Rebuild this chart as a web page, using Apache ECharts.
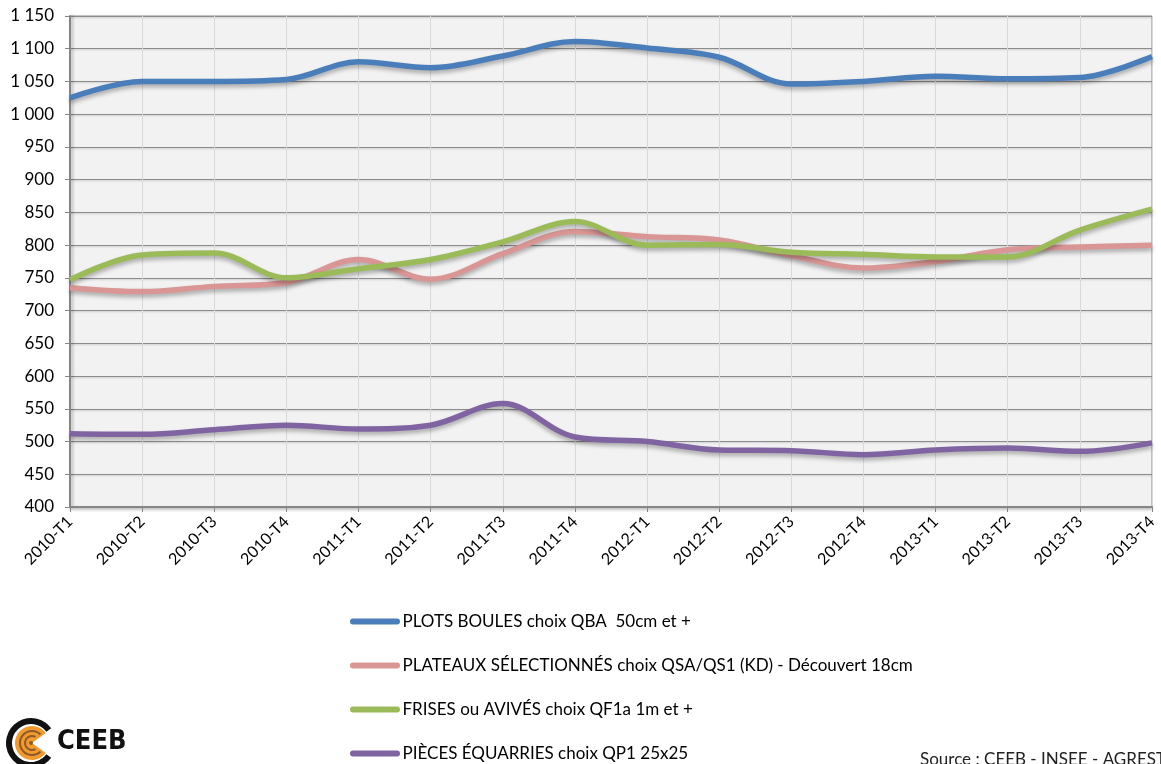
<!DOCTYPE html>
<html>
<head>
<meta charset="utf-8">
<script src="https://cdn.jsdelivr.net/npm/echarts@6/dist/echarts.min.js"></script>
<style>
  html, body { margin: 0; padding: 0; background: #fff; }
  #chart { width: 1161px; height: 764px; }
</style>
</head>
<body>
<div id="chart"></div>
<script>
const quarters = [
  '2010-T1', '2010-T2', '2010-T3', '2010-T4',
  '2011-T1', '2011-T2', '2011-T3', '2011-T4',
  '2012-T1', '2012-T2', '2012-T3', '2012-T4',
  '2013-T1', '2013-T2', '2013-T3', '2013-T4'
]

const seriesNames = [
  'PLOTS BOULES choix QBA  50cm et +',
  'PLATEAUX SÉLECTIONNÉS choix QSA/QS1 (KD) - Découvert 18cm',
  'FRISES ou AVIVÉS choix QF1a 1m et +',
  'PIÈCES ÉQUARRIES choix QP1 25x25'
]

const plotsBoules = [1025, 1050, 1050, 1053, 1080, 1071, 1089, 1111, 1101, 1087, 1046, 1050, 1058, 1054, 1056, 1088]
const plateaux = [735, 729, 737, 743, 778, 748, 787, 821, 813, 808, 784, 765, 775, 793, 797, 800]
const frises = [747, 785, 788, 750, 764, 778, 805, 836, 800, 801, 789, 786, 782, 782, 823, 855]
const pieces = [512, 511, 518, 525, 519, 525, 558, 507, 500, 487, 486, 480, 487, 490, 485, 498]

const palette = ['#4a7ebb', '#d99694', '#9bbb59', '#8064a2']
const font = 'Lato, "Open Sans", sans-serif'

const chart = echarts.init(document.getElementById('chart'))

function lineSeries(name, data, color) {
  return {
    name,
    type: 'line',
    data,
    smooth: 0.35,
    symbol: 'none',
    lineStyle: {
      color,
      width: 5.5,
      shadowColor: 'rgba(0, 0, 0, 0.3)',
      shadowBlur: 4,
      shadowOffsetY: 3,
    },
    itemStyle: { color },
  }
}

const capsule = 'path://M3,0 H47 A3,3 0 0 1 47,6 H3 A3,3 0 0 1 3,0 Z'

chart.setOption({
  animation: false,
  textStyle: { fontFamily: font },
  grid: {
    left: 70, right: 9, top: 16, bottom: 257,
    show: true,
    backgroundColor: '#f2f2f2',
    borderColor: '#8c8c8c',
    borderWidth: 1,
  },
  xAxis: {
    type: 'category',
    data: quarters,
    boundaryGap: false,
    axisLine: {
      lineStyle: { color: '#868686', width: 2, shadowColor: 'rgba(0,0,0,0.25)', shadowBlur: 3, shadowOffsetY: 2 },
    },
    axisTick: { show: true, length: 5, lineStyle: { color: '#868686', width: 1 } },
    axisLabel: { rotate: 45, fontSize: 16, color: '#000', margin: 12, fontFamily: font },
    splitLine: { show: true, lineStyle: { color: '#d9d9d9', width: 1 } },
  },
  yAxis: {
    type: 'value',
    min: 400,
    max: 1150,
    interval: 50,
    axisLine: {
      show: true,
      lineStyle: { color: '#868686', width: 2, shadowColor: 'rgba(0,0,0,0.25)', shadowBlur: 3, shadowOffsetX: 2 },
    },
    axisTick: { show: true, length: 5, lineStyle: { color: '#868686' } },
    axisLabel: {
      fontSize: 17,
      color: '#000',
      margin: 16,
      fontFamily: font,
      formatter: (v) => String(v).replace(/\B(?=(\d{3})+(?!\d))/g, ' '),
    },
    splitLine: {
      lineStyle: { color: '#8c8c8c', width: 1.2, shadowColor: 'rgba(0,0,0,0.2)', shadowBlur: 2, shadowOffsetY: 1 },
    },
  },
  legend: {
    orient: 'vertical',
    left: 345,
    top: 608,
    height: 220,
    width: 700,
    icon: capsule,
    itemWidth: 51,
    itemHeight: 6,
    itemGap: 27,
    textStyle: { fontSize: 17, color: '#000', fontFamily: font, padding: [0, 0, 0, -3] },
    data: seriesNames,
  },
  graphic: [
    {
      type: 'text',
      left: 920,
      top: 751,
      style: { text: 'Source : CEEB - INSEE - AGRESTE', fontSize: 17, fill: '#222', fontFamily: font },
    },
    // CEEB logo
    {
      type: 'group',
      left: 6,
      top: 718,
      children: [
        {
          type: 'sector',
          shape: { cx: 25, cy: 25, r: 25, r0: 19, startAngle: Math.PI / 5, endAngle: 2 * Math.PI - Math.PI / 5 },
          style: { fill: '#111' },
        },
        {
          type: 'sector',
          shape: { cx: 26, cy: 25, r: 17, r0: 0, startAngle: Math.PI / 5, endAngle: 2 * Math.PI - Math.PI / 5 },
          style: { fill: '#f29a2e' },
        },
        {
          type: 'arc',
          shape: { cx: 26, cy: 25, r: 12, startAngle: Math.PI / 4, endAngle: 2 * Math.PI - Math.PI / 4 },
          style: { stroke: '#8a5a2a', lineWidth: 2, fill: null },
        },
        {
          type: 'arc',
          shape: { cx: 26, cy: 25, r: 7, startAngle: Math.PI / 3, endAngle: 2 * Math.PI - Math.PI / 3 },
          style: { stroke: '#8a5a2a', lineWidth: 2, fill: null },
        },
        {
          type: 'circle',
          shape: { cx: 25, cy: 25, r: 2 },
          style: { fill: '#8a5a2a' },
        },
        {
          type: 'text',
          x: 51,
          y: 10,
          style: { text: 'CEEB', fontSize: 27, fontWeight: 'bold', fill: '#111', fontFamily: '"DejaVu Sans Condensed", "Liberation Sans Narrow", sans-serif' },
        },
      ],
    },
  ],
  series: [
    lineSeries(seriesNames[0], plotsBoules, palette[0]),
    lineSeries(seriesNames[1], plateaux, palette[1]),
    lineSeries(seriesNames[2], frises, palette[2]),
    lineSeries(seriesNames[3], pieces, palette[3]),
  ],
})

window.addEventListener('resize', () => chart.resize())
</script>
</body>
</html>
